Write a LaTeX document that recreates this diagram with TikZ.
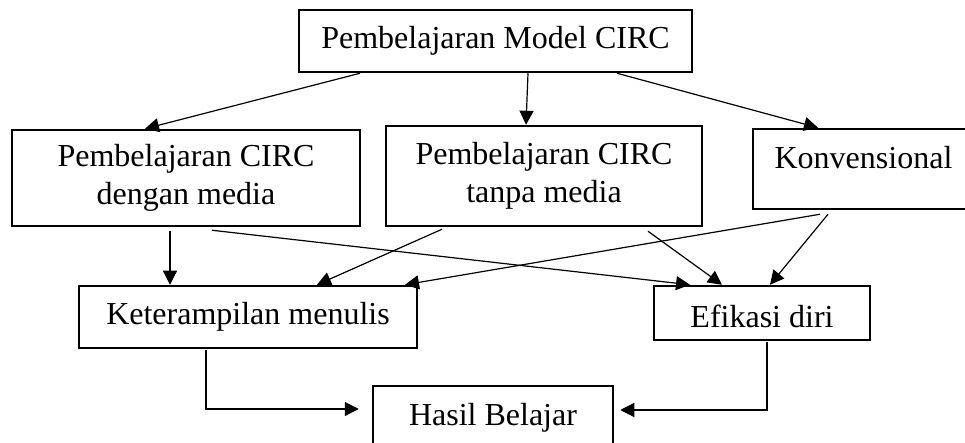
\documentclass[tikz,border=0pt]{standalone}
\usepackage{fontspec}
\setmainfont{Liberation Serif}
\usetikzlibrary{arrows.meta,calc}
\begin{document}
\begin{tikzpicture}[x=1pt,y=-1pt,
  box/.style={draw, line width=2.5pt, rectangle, inner sep=0pt, align=center,
    font=\fontsize{32}{38}\selectfont},
  txt/.style={inner sep=0pt, font=\fontsize{32}{38}\selectfont},
  arr/.style={-{Triangle[length=14pt,width=14pt]}, line width=1.2pt},
  ln/.style={line width=1.2pt}]
\useasboundingbox (0,0) rectangle (965,443);
\clip (0,0) rectangle (965,443);
\node[box, minimum width=393pt, minimum height=62pt] (top) at (495.5,41) {Pembelajaran Model CIRC};
\node[box, minimum width=348pt, minimum height=96pt] (left) at (186,178) {Pembelajaran CIRC\\dengan media};
\node[box, minimum width=316pt, minimum height=100pt] (mid) at (544,176) {Pembelajaran CIRC\\tanpa media};
\node[box, minimum width=221pt, minimum height=80pt] (konv) at (863.5,169) {};
\node[txt, anchor=base] (konvtext) at (863.5,169) {Konvensional};
\node[box, minimum width=338pt, minimum height=62pt] (ket) at (248,317) {Keterampilan menulis};
\node[box, minimum width=216pt, minimum height=54pt] (efi) at (762,313) {};
\node[txt, anchor=base] (efitext) at (762,327) {Efikasi diri};
\node[box, minimum width=240pt, minimum height=60pt] (hasil) at (493,416) {};
\node[txt, anchor=base] (hasiltext) at (493,425) {Hasil Belajar};

\draw[arr] ($(top.south)+(-135.5,0)$) -- ($(left.north)+(-41,0)$);
\draw[arr] ($(top.south)+(32.5,0)$) -- ($(mid.north)+(-18,0)$);
\draw[arr] ($(top.south)+(121.5,0)$) -- ($(konv.north)+(-45.5,0)$);

\draw[arr] ($(left.south)+(-16,4)$) -- ($(ket.north)+(-78,0)$);
\draw[arr] ($(left.south)+(26,3)$) -- ($(efi.north)+(-72,0)$);
\draw[arr] ($(mid.south)+(-102,2)$) -- ($(ket.north)+(69,0)$);
\draw[arr] ($(mid.south)+(104,4)$) -- ($(efi.north)+(-40,0)$);
\draw[arr] ($(konv.south)+(-43.5,4)$) -- ($(ket.north)+(157,0)$);
\draw[arr] ($(konv.south)+(-35.5,4)$) -- ($(efi.north)+(8,0)$);

\draw[arr] ($(ket.south)+(-42,1)$) |- ($(hasil.west)+(-13,-7)$);
\draw[arr] ($(efi.south)+(5,1)$) |- ($(hasil.east)+(6,-6)$);
\end{tikzpicture}
\end{document}
